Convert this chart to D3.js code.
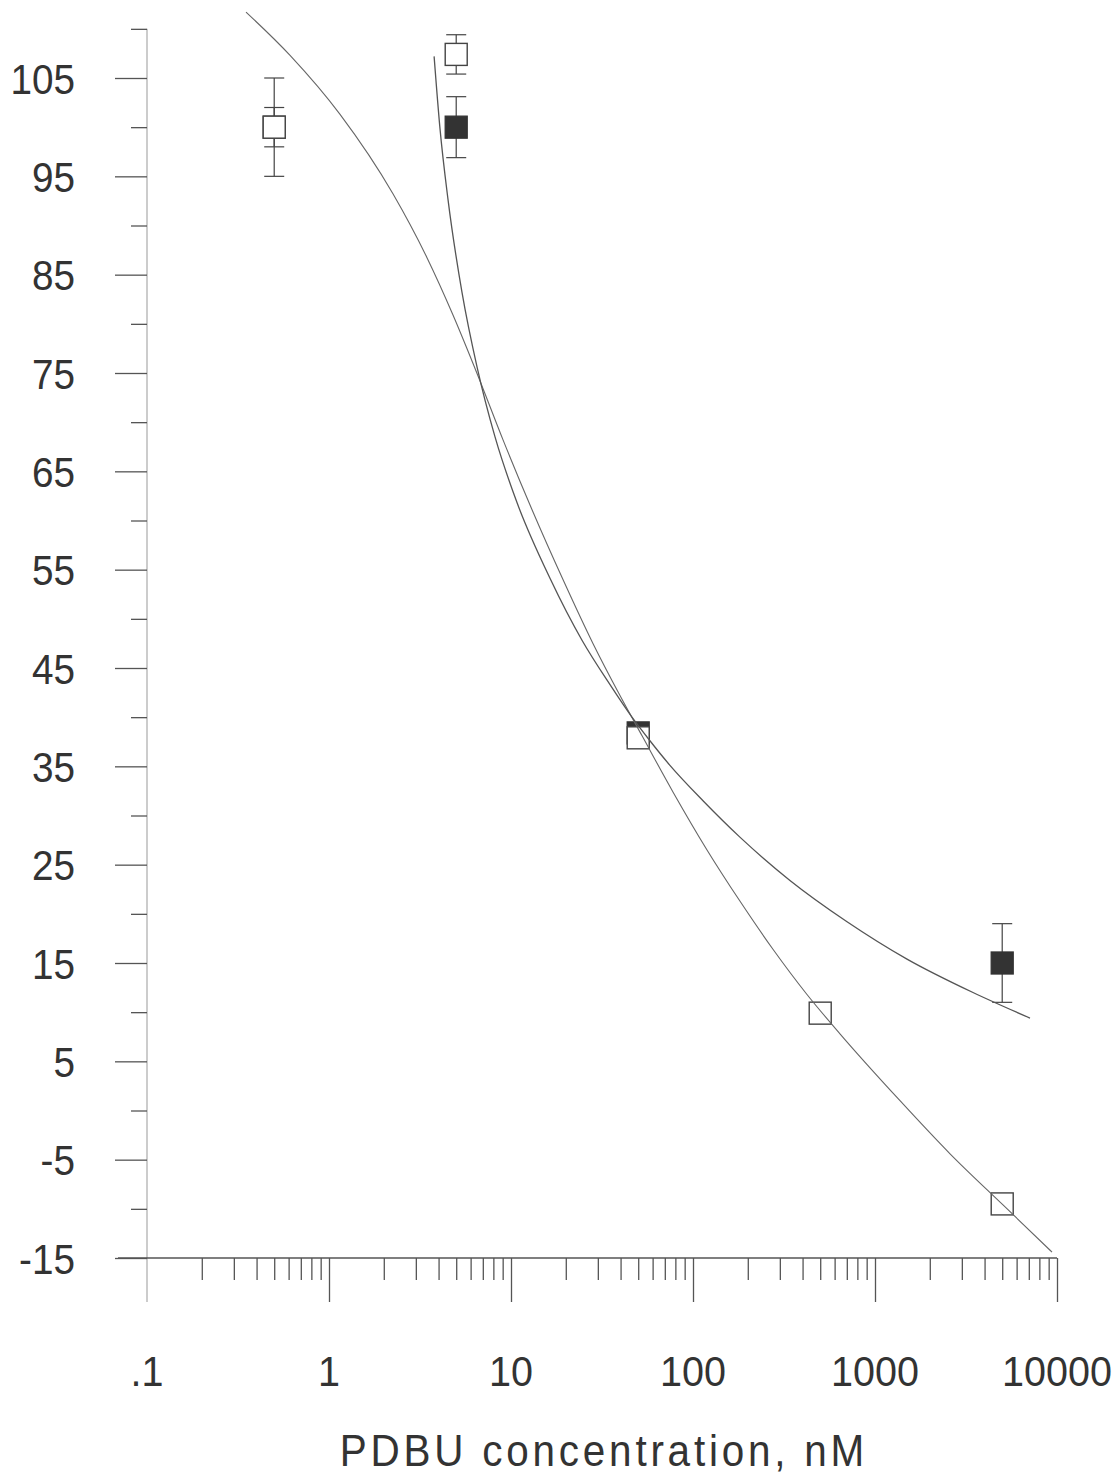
<!DOCTYPE html>
<html>
<head>
<meta charset="utf-8">
<script src="https://cdn.jsdelivr.net/npm/d3@7"></script>
<style>
  body { margin: 0; background: #fff; }
  svg { display: block; }
  text { font-family: "Liberation Sans", Arial, sans-serif; fill: #333; }
</style>
</head>
<body>
<svg id="chart" width="1117" height="1477"></svg>
<script>
// ---- Measured responses (% of control) vs PDBU concentration (nM) ----
// Open squares
const openConc = [0.5, 5, 50, 500, 5000];
const openPct  = [100, 107.4, 37.9, 9.9, -9.5];
const openErr  = [5, 2, 0, 0, 0];

// Filled squares
const filledConc = [0.5, 5, 50, 5000];
const filledPct  = [100, 100, 38.4, 15];
const filledErr  = [2, 3.1, 0, 4];

// Fitted curve through the open-square data
const fitOpenConc = [0.35, 0.611, 1.15, 2.25, 3.46, 4.8, 6.59, 9.04, 13.05, 19.3, 28.2, 39.7, 52.5,
                     77.6, 119.4, 181, 275, 423, 642, 1372, 2584, 5050, 9390];
const fitOpenPct  = [111.7, 107.3, 101.3, 93.2, 86.7, 80.9, 74.7, 68.2, 61.1, 54.0, 47.5, 42.2, 38.1,
                     32.4, 26.5, 21.3, 16.4, 11.8, 7.8, 1.0, -4.4, -9.6, -14.4];

// Fitted curve through the filled-square data
const fitFilledConc = [3.78, 4.07, 4.51, 5.38, 6.51, 8.17, 10.8, 16.4, 24.6, 35.0, 46.2, 58.0,
                       74.7, 113.5, 181, 341, 702, 1499, 3455, 7105];
const fitFilledPct  = [107.2, 99.9, 92.6, 83.2, 75.6, 68.5, 61.8, 54.1, 47.8, 43.3, 40.0, 37.6,
                       35.1, 31.5, 27.8, 23.4, 19.2, 15.4, 12.0, 9.4];

// ---- Axis ticks and labels ----
const yMajor = [-15, -5, 5, 15, 25, 35, 45, 55, 65, 75, 85, 95, 105];
const yMajorLabels = ["-15", "-5", "5", "15", "25", "35", "45", "55", "65", "75", "85", "95", "105"];
const yMinor = [-10, 0, 10, 20, 30, 40, 50, 60, 70, 80, 90, 100, 110];
const xMajor = [0.1, 1, 10, 100, 1000, 10000];
const xMajorLabels = [".1", "1", "10", "100", "1000", "10000"];
const decades = [0.1, 1, 10, 100, 1000];
const mantissas = [2, 3, 4, 5, 6, 7, 8, 9];
const xMinor = decades.flatMap(d => mantissas.map(m => +(m * d).toPrecision(3)));
const xTitle = "PDBU concentration, nM";

// ---- Scales ----
const x = d3.scaleLog().domain([0.1, 10000]).range([147, 1057]);
const y = d3.scaleLinear().domain([-15, 105]).range([1258, 78]);

const svg = d3.select("#chart");
const axisColor = "#555";

// ---- Y axis ----
svg.append("line")
  .attr("x1", x(0.1)).attr("x2", x(0.1))
  .attr("y1", y(110)).attr("y2", y(-15) + 44)
  .attr("stroke", "#999").attr("stroke-width", 1);

const gy = svg.append("g").attr("transform", `translate(${x(0.1)},0)`);
gy.append("g")
  .call(d3.axisLeft(y).tickValues(yMajor).tickSize(32).tickFormat(""))
  .call(g => g.select(".domain").remove());
gy.append("g")
  .call(d3.axisLeft(y).tickValues(yMinor).tickSize(16).tickFormat(""))
  .call(g => g.select(".domain").remove());
gy.selectAll(".tick line").attr("stroke", axisColor).attr("stroke-width", 1.3);

svg.append("g").selectAll("text")
  .data(yMajor)
  .join("text")
  .attr("text-anchor", "end")
  .attr("transform", d => `translate(75,${y(d) + 15.5}) scale(0.9,1)`)
  .style("font-size", "43px")
  .text((d, i) => yMajorLabels[i]);

// ---- X axis ----
svg.append("line")
  .attr("x1", x(0.1) - 29).attr("x2", x(10000))
  .attr("y1", y(-15)).attr("y2", y(-15))
  .attr("stroke", axisColor).attr("stroke-width", 1.6);

const gx = svg.append("g").attr("transform", `translate(0,${y(-15)})`);
gx.append("g")
  .call(d3.axisBottom(x).tickValues(xMajor.slice(1)).tickSize(44).tickFormat(""))
  .call(g => g.select(".domain").remove());
gx.append("g")
  .call(d3.axisBottom(x).tickValues(xMinor).tickSize(22).tickFormat(""))
  .call(g => g.select(".domain").remove());
gx.selectAll(".tick line").attr("stroke", axisColor).attr("stroke-width", 1.3);

svg.append("g").selectAll("text")
  .data(xMajor)
  .join("text")
  .attr("text-anchor", "middle")
  .attr("transform", d => `translate(${x(d)},1386) scale(0.92,1)`)
  .style("font-size", "43px")
  .text((d, i) => xMajorLabels[i]);

svg.append("text")
  .attr("text-anchor", "middle")
  .attr("transform", "translate(602,1466) scale(0.92,1)")
  .attr("textLength", 570)
  .attr("lengthAdjust", "spacing")
  .style("font-size", "44px")
  .text(xTitle);

// ---- Error bars ----
function errorBars(conc, pct, err) {
  const g = svg.append("g").attr("stroke", "#444").attr("stroke-width", 1.2);
  conc.forEach((c, i) => {
    if (!err[i]) return;
    const cx = x(c), top = y(pct[i] + err[i]), bot = y(pct[i] - err[i]);
    g.append("line").attr("x1", cx).attr("x2", cx).attr("y1", top).attr("y2", bot);
    g.append("line").attr("x1", cx - 10).attr("x2", cx + 10).attr("y1", top).attr("y2", top);
    g.append("line").attr("x1", cx - 10).attr("x2", cx + 10).attr("y1", bot).attr("y2", bot);
  });
}
errorBars(filledConc, filledPct, filledErr);
errorBars(openConc, openPct, openErr);

// ---- Markers ----
const s = 22;
svg.append("g").selectAll("rect")
  .data(filledConc.map((c, i) => ({ c, v: filledPct[i] })))
  .join("rect")
  .attr("x", d => x(d.c) - s / 2).attr("y", d => y(d.v) - s / 2)
  .attr("width", s).attr("height", s)
  .attr("fill", "#333").attr("stroke", "#333").attr("stroke-width", 1.3);

svg.append("g").selectAll("rect")
  .data(openConc.map((c, i) => ({ c, v: openPct[i] })))
  .join("rect")
  .attr("x", d => x(d.c) - s / 2).attr("y", d => y(d.v) - s / 2)
  .attr("width", s).attr("height", s)
  .attr("fill", "#fff").attr("stroke", "#444").attr("stroke-width", 1.4);

// ---- Fitted curves ----
const line = d3.line()
  .x(d => x(d.c)).y(d => y(d.v))
  .curve(d3.curveMonotoneX);

svg.append("path")
  .datum(fitOpenConc.map((c, i) => ({ c, v: fitOpenPct[i] })))
  .attr("d", line)
  .attr("fill", "none").attr("stroke", "#666").attr("stroke-width", 1.1);

svg.append("path")
  .datum(fitFilledConc.map((c, i) => ({ c, v: fitFilledPct[i] })))
  .attr("d", line)
  .attr("fill", "none").attr("stroke", "#555").attr("stroke-width", 1.3);
</script>
</body>
</html>
